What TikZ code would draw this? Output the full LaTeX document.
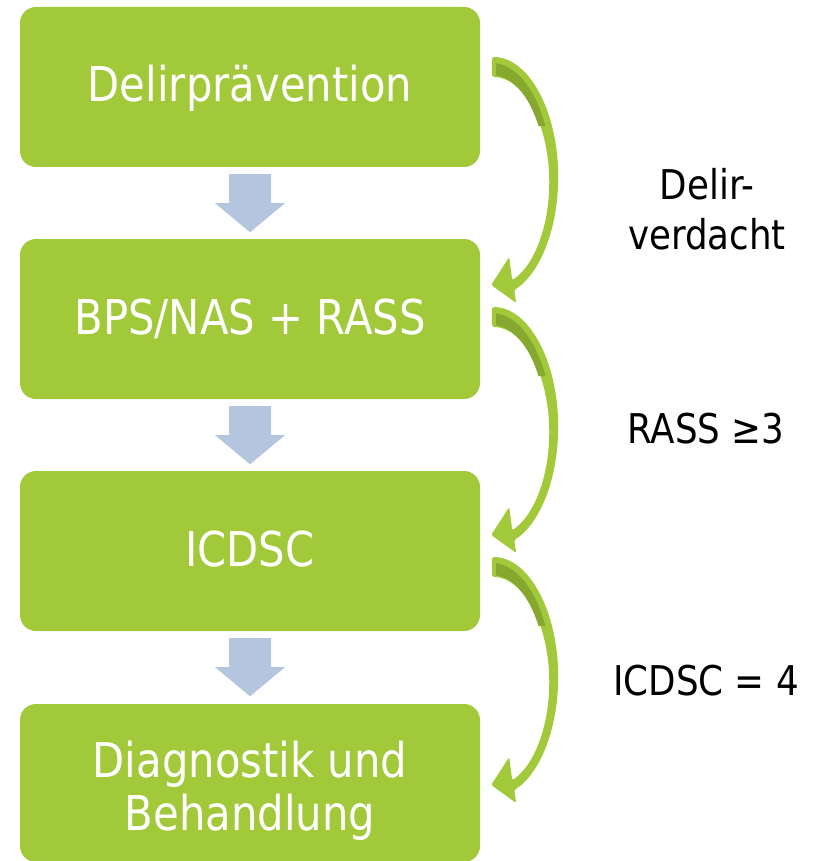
\documentclass[tikz,border=0pt]{standalone}
\usepackage{fontspec}
\setmainfont{DejaVu Sans}[FakeStretch=0.87]
\usetikzlibrary{calc}
\definecolor{boxgreen}{HTML}{A2C93A}
\definecolor{darkgreen}{HTML}{86A82F}
\definecolor{arrowblue}{HTML}{B4C5DF}
\tikzset{
  stepbox/.style={fill=boxgreen, draw=none, rounded corners=16pt,
    minimum width=460pt, minimum height=160pt, inner sep=0pt,
    text=white, font=\fontsize{48}{53}\selectfont},
  oneline/.style={text height=35pt, text depth=5pt},
  boxtext/.style={text=white, font=\fontsize{48}{53}\selectfont, align=center, inner sep=0pt},
  sidelabel/.style={font=\fontsize{41}{50}\selectfont, align=center, inner sep=0pt},
  capcentre/.style={text height=30pt, text depth=0pt},
  blockdown/.pic={
    \fill[arrowblue] (-21,7) -- (21,7) -- (21,36) -- (35,36) -- (0,65)
      -- (-35,36) -- (-21,36) -- cycle;
  },
  curvedback/.pic={
    \fill[boxgreen, rounded corners=1.5pt] (0,0)
      arc[start angle=90, end angle=-70.5, x radius=66pt, y radius=120pt]
      -- (24,246) -- (-1,228) -- (17,200) -- (20,223.3)
      arc[start angle=-69.5, end angle=90, x radius=57pt, y radius=105pt]
      -- cycle;
    \fill[darkgreen] (4,6.3)
      arc[start angle=86, end angle=27, x radius=60pt, y radius=116pt]
      -- (46.3,69)
      arc[start angle=31, end angle=86, x radius=54pt, y radius=105pt]
      -- cycle;
  }
}
\begin{document}
\begin{tikzpicture}[x=1pt,y=-1pt]
\useasboundingbox (0,0) rectangle (821,861);
% boxes
\node[stepbox, oneline] (b1) at (250,87) {Delirprävention};
\node[stepbox, oneline] (b2) at (250,319) {BPS/NAS + RASS};
\node[stepbox, oneline] (b3) at (250,551) {ICDSC};
\node[stepbox, minimum height=158pt] (b4) at (250,783) {};
\node[boxtext] (t4) at ($(b4.center)+(0,8)$) {Diagnostik und\\Behandlung};
% straight block arrows
\pic at (b1.south) {blockdown};
\pic at (b2.south) {blockdown};
\pic at (b3.south) {blockdown};
% curved arrows
\pic at ($(b1.east)+(12,-30)$) {curvedback};
\pic at ($(b2.east)+(12,-12)$) {curvedback};
\pic at ($(b3.east)+(12,6)$) {curvedback};
% labels
\node[sidelabel] (l1) at (707,209) {Delir-\\verdacht};
\node[sidelabel, capcentre] (l2) at (706,428) {RASS ≥3};
\node[sidelabel, capcentre] (l3) at (706,680) {ICDSC = 4};
\end{tikzpicture}
\end{document}
